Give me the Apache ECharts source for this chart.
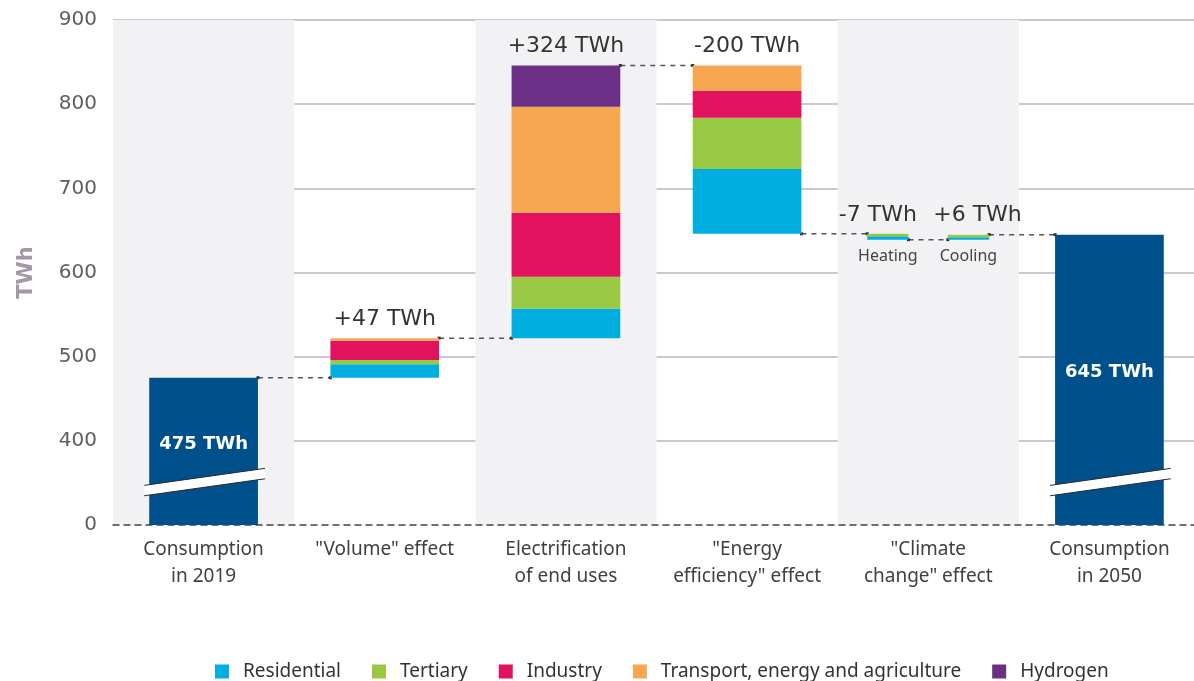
<!DOCTYPE html>
<html>
<head>
<meta charset="utf-8">
<title>Electricity consumption 2019 - 2050</title>
<script src="https://cdn.jsdelivr.net/npm/echarts@6/dist/echarts.min.js"></script>
<style>
html, body { margin: 0; padding: 0; background: #fff; }
#chart { width: 1194px; height: 681px; }
</style>
</head>
<body>
<div id="chart"></div>
<script>
// values (TWh)
var categories = ['Consumption\nin 2019', '"Volume" effect', 'Electrification\nof end uses',
    '"Energy\nefficiency" effect', '"Climate\nchange" effect', 'Consumption\nin 2050'];
var yTickLabels = ['0', '400', '500', '600', '700', '800', '900'];
var sectors = ['Residential', 'Tertiary', 'Industry', 'Transport, energy and agriculture', 'Hydrogen'];
var sectorColors = ['#00aee0', '#99c943', '#e2125f', '#f7a651', '#6b3085'];
var consumption2019 = 475;
var consumption2050 = 645;
var volumeEffect = [16, 5, 23, 3, 0];
var electrification = [35, 38, 76, 126, 49];
var efficiency = [-77, -61, -32, -30, 0];
var heating = [-4, -3, 0, 0, 0];
var cooling = [3, 3, 0, 0, 0];
var stepLabels = ['+47 TWh', '+324 TWh', '-200 TWh', '-7 TWh', '+6 TWh'];
var climateLabels = ['Heating', 'Cooling'];

// layout
var axisFloor = 300;   // axis is cut: "0" sits where 300 would be
var breakAt = 351;     // where the cut mark crosses the total bars
var totalColor = '#00508b';
var slots = {
    full:  {off: 0,      w: 0.6,   shift: 0},
    left:  {off: -0.223, w: 0.228, shift: -0.055},
    right: {off: 0.222,  w: 0.228, shift: 0.05}
};

var steps = [
    {cat: 1, values: volumeEffect, label: stepLabels[0], slot: 'full'},
    {cat: 2, values: electrification, label: stepLabels[1], slot: 'full'},
    {cat: 3, values: efficiency, label: stepLabels[2], slot: 'full'},
    {cat: 4, values: heating, label: stepLabels[3], slot: 'left', sub: climateLabels[0]},
    {cat: 4, values: cooling, label: stepLabels[4], slot: 'right', sub: climateLabels[1]}
];

var segData = sectors.map(function () { return []; });
var labelData = [];
var linkData = [];
var level = consumption2019;
var prev = {cat: 0, slot: 'full'};
steps.forEach(function (s) {
    var sum = s.values.reduce(function (a, b) { return a + b; }, 0);
    var low = sum < 0 ? level + sum : level;
    var sl = slots[s.slot], ps = slots[prev.slot];
    linkData.push([prev.cat, ps.off + ps.w / 2, s.cat, sl.off - sl.w / 2, level]);
    var acc = low;
    s.values.forEach(function (v, i) {
        if (v === 0) return;
        segData[i].push([s.cat, acc, acc + Math.abs(v), sl.off, sl.w]);
        acc += Math.abs(v);
    });
    labelData.push({value: [s.cat, sl.off + sl.shift, sl.off, Math.max(level, level + sum), low],
        name: s.label, sub: s.sub || ''});
    level += sum;
    prev = s;
});
linkData.push([prev.cat, slots[prev.slot].off + slots[prev.slot].w / 2, 5, -slots.full.w / 2, consumption2050]);

function renderSegment(params, api) {
    var band = api.size([1, 0])[0];
    var bottom = api.coord([api.value(0), api.value(1)]);
    var top = api.coord([api.value(0), api.value(2)]);
    var w = api.value(4) * band;
    return {
        type: 'rect',
        shape: {x: bottom[0] + api.value(3) * band - w / 2, y: top[1], width: w, height: bottom[1] - top[1]},
        style: {fill: api.visual('color')}
    };
}

function renderTotal(params, api) {
    var band = api.size([1, 0])[0];
    var cat = api.value(0);
    var base = api.coord([cat, axisFloor]);
    var top = api.coord([cat, api.value(1)]);
    var brk = api.coord([cat, breakAt]);
    var w = slots.full.w * band;
    var x0 = base[0] - w / 2, x1 = base[0] + w / 2;
    var l = x0 - 5, r = x1 + 7;
    var yl = brk[1] + 8.5, yr = brk[1] - 8.5, g = 5.2;
    return {
        type: 'group',
        children: [
            {type: 'rect', shape: {x: x0, y: top[1], width: w, height: base[1] - top[1]}, style: {fill: totalColor}},
            {type: 'polygon', shape: {points: [[l, yl - g], [r, yr - g], [r, yr + g], [l, yl + g]]}, style: {fill: '#fff'}},
            {type: 'line', shape: {x1: l, y1: yl - g, x2: r, y2: yr - g}, style: {stroke: '#2b2b2b', lineWidth: 1}},
            {type: 'line', shape: {x1: l, y1: yl + g, x2: r, y2: yr + g}, style: {stroke: '#2b2b2b', lineWidth: 1}},
            {type: 'text', x: base[0], y: (top[1] + base[1]) / 2 - 7,
                style: {text: api.value(1) + ' TWh', fill: '#fff', fontSize: 18, fontWeight: 'bold',
                    fontFamily: 'DejaVu Sans', align: 'center', verticalAlign: 'middle'}}
        ]
    };
}

function renderStepLabel(params, api) {
    var d = labelData[params.dataIndex];
    var band = api.size([1, 0])[0];
    var top = api.coord([d.value[0], d.value[3]]);
    var bottom = api.coord([d.value[0], d.value[4]]);
    var children = [{
        type: 'text', x: top[0] + d.value[1] * band, y: top[1] - 19,
        style: {text: d.name, fill: '#333', fontSize: 22, fontFamily: 'DejaVu Sans',
            align: 'center', verticalAlign: 'middle'}
    }];
    if (d.sub) {
        children.push({
            type: 'text', x: top[0] + d.value[2] * band, y: bottom[1] + 17,
            style: {text: d.sub, fill: '#444', fontSize: 16, fontFamily: 'Noto Sans',
                align: 'center', verticalAlign: 'middle'}
        });
    }
    return {type: 'group', children: children};
}

function renderLink(params, api) {
    var band = api.size([1, 0])[0];
    var a = api.coord([api.value(0), api.value(4)]);
    var b = api.coord([api.value(2), api.value(4)]);
    var x1 = a[0] + api.value(1) * band, x2 = b[0] + api.value(3) * band;
    return {
        type: 'group',
        children: [
            {type: 'line', shape: {x1: x1, y1: a[1], x2: x2, y2: a[1]},
                style: {stroke: '#555', lineWidth: 1.5, lineDash: [5, 5]}},
            {type: 'rect', shape: {x: x1 - 1.5, y: a[1] - 1.5, width: 3, height: 3}, style: {fill: '#333'}},
            {type: 'rect', shape: {x: x2 - 1.5, y: a[1] - 1.5, width: 3, height: 3}, style: {fill: '#333'}}
        ]
    };
}

var series = sectors.map(function (name, i) {
    return {
        name: name, type: 'custom', renderItem: renderSegment,
        itemStyle: {color: sectorColors[i]}, data: segData[i], z: 3
    };
});
series.push({
    name: 'Total', type: 'custom', renderItem: renderTotal,
    itemStyle: {color: totalColor}, z: 3,
    data: [[0, consumption2019], [5, consumption2050]]
});
series.push({name: 'links', type: 'custom', renderItem: renderLink, data: linkData, z: 2, silent: true});
series.push({name: 'labels', type: 'custom', renderItem: renderStepLabel, data: labelData, z: 4, silent: true});

var chart = echarts.init(document.getElementById('chart'));
chart.setOption({
    animation: false,
    backgroundColor: '#fff',
    grid: {left: 113, top: 20, width: 1087, bottom: 156, outerBoundsMode: 'none'},
    legend: {
        data: sectors, left: 210, top: 657, icon: 'rect',
        itemWidth: 14, itemHeight: 14, itemGap: 31,
        textStyle: {fontSize: 19, color: '#333', fontFamily: 'Noto Sans', padding: [0, 0, 0, 9]}
    },
    xAxis: {
        type: 'category', data: categories,
        axisTick: {show: false},
        axisLine: {show: true, lineStyle: {color: '#444', width: 1.5, type: [6, 5]}},
        axisLabel: {fontSize: 19, color: '#404040', fontFamily: 'Noto Sans', lineHeight: 27, margin: 11, interval: 0},
        splitArea: {show: true, areaStyle: {color: ['#f2f2f4', 'rgba(255,255,255,0)']}},
        splitLine: {show: false}
    },
    yAxis: {
        type: 'value', min: axisFloor, max: 900, interval: 100,
        name: 'TWh', nameLocation: 'middle', nameRotate: 90, nameGap: 76,
        nameTextStyle: {fontSize: 21, fontWeight: 'bold', color: '#a597a8', fontFamily: 'DejaVu Sans'},
        axisLine: {show: false}, axisTick: {show: false},
        axisLabel: {fontSize: 20, color: '#5e5e5e', margin: 16, fontFamily: 'DejaVu Sans',
            formatter: function (v, i) { return yTickLabels[i]; }},
        splitLine: {show: true, showMinLine: false, lineStyle: {color: '#bfb5bf', width: 1.5}}
    },
    series: series
});
</script>
</body>
</html>
